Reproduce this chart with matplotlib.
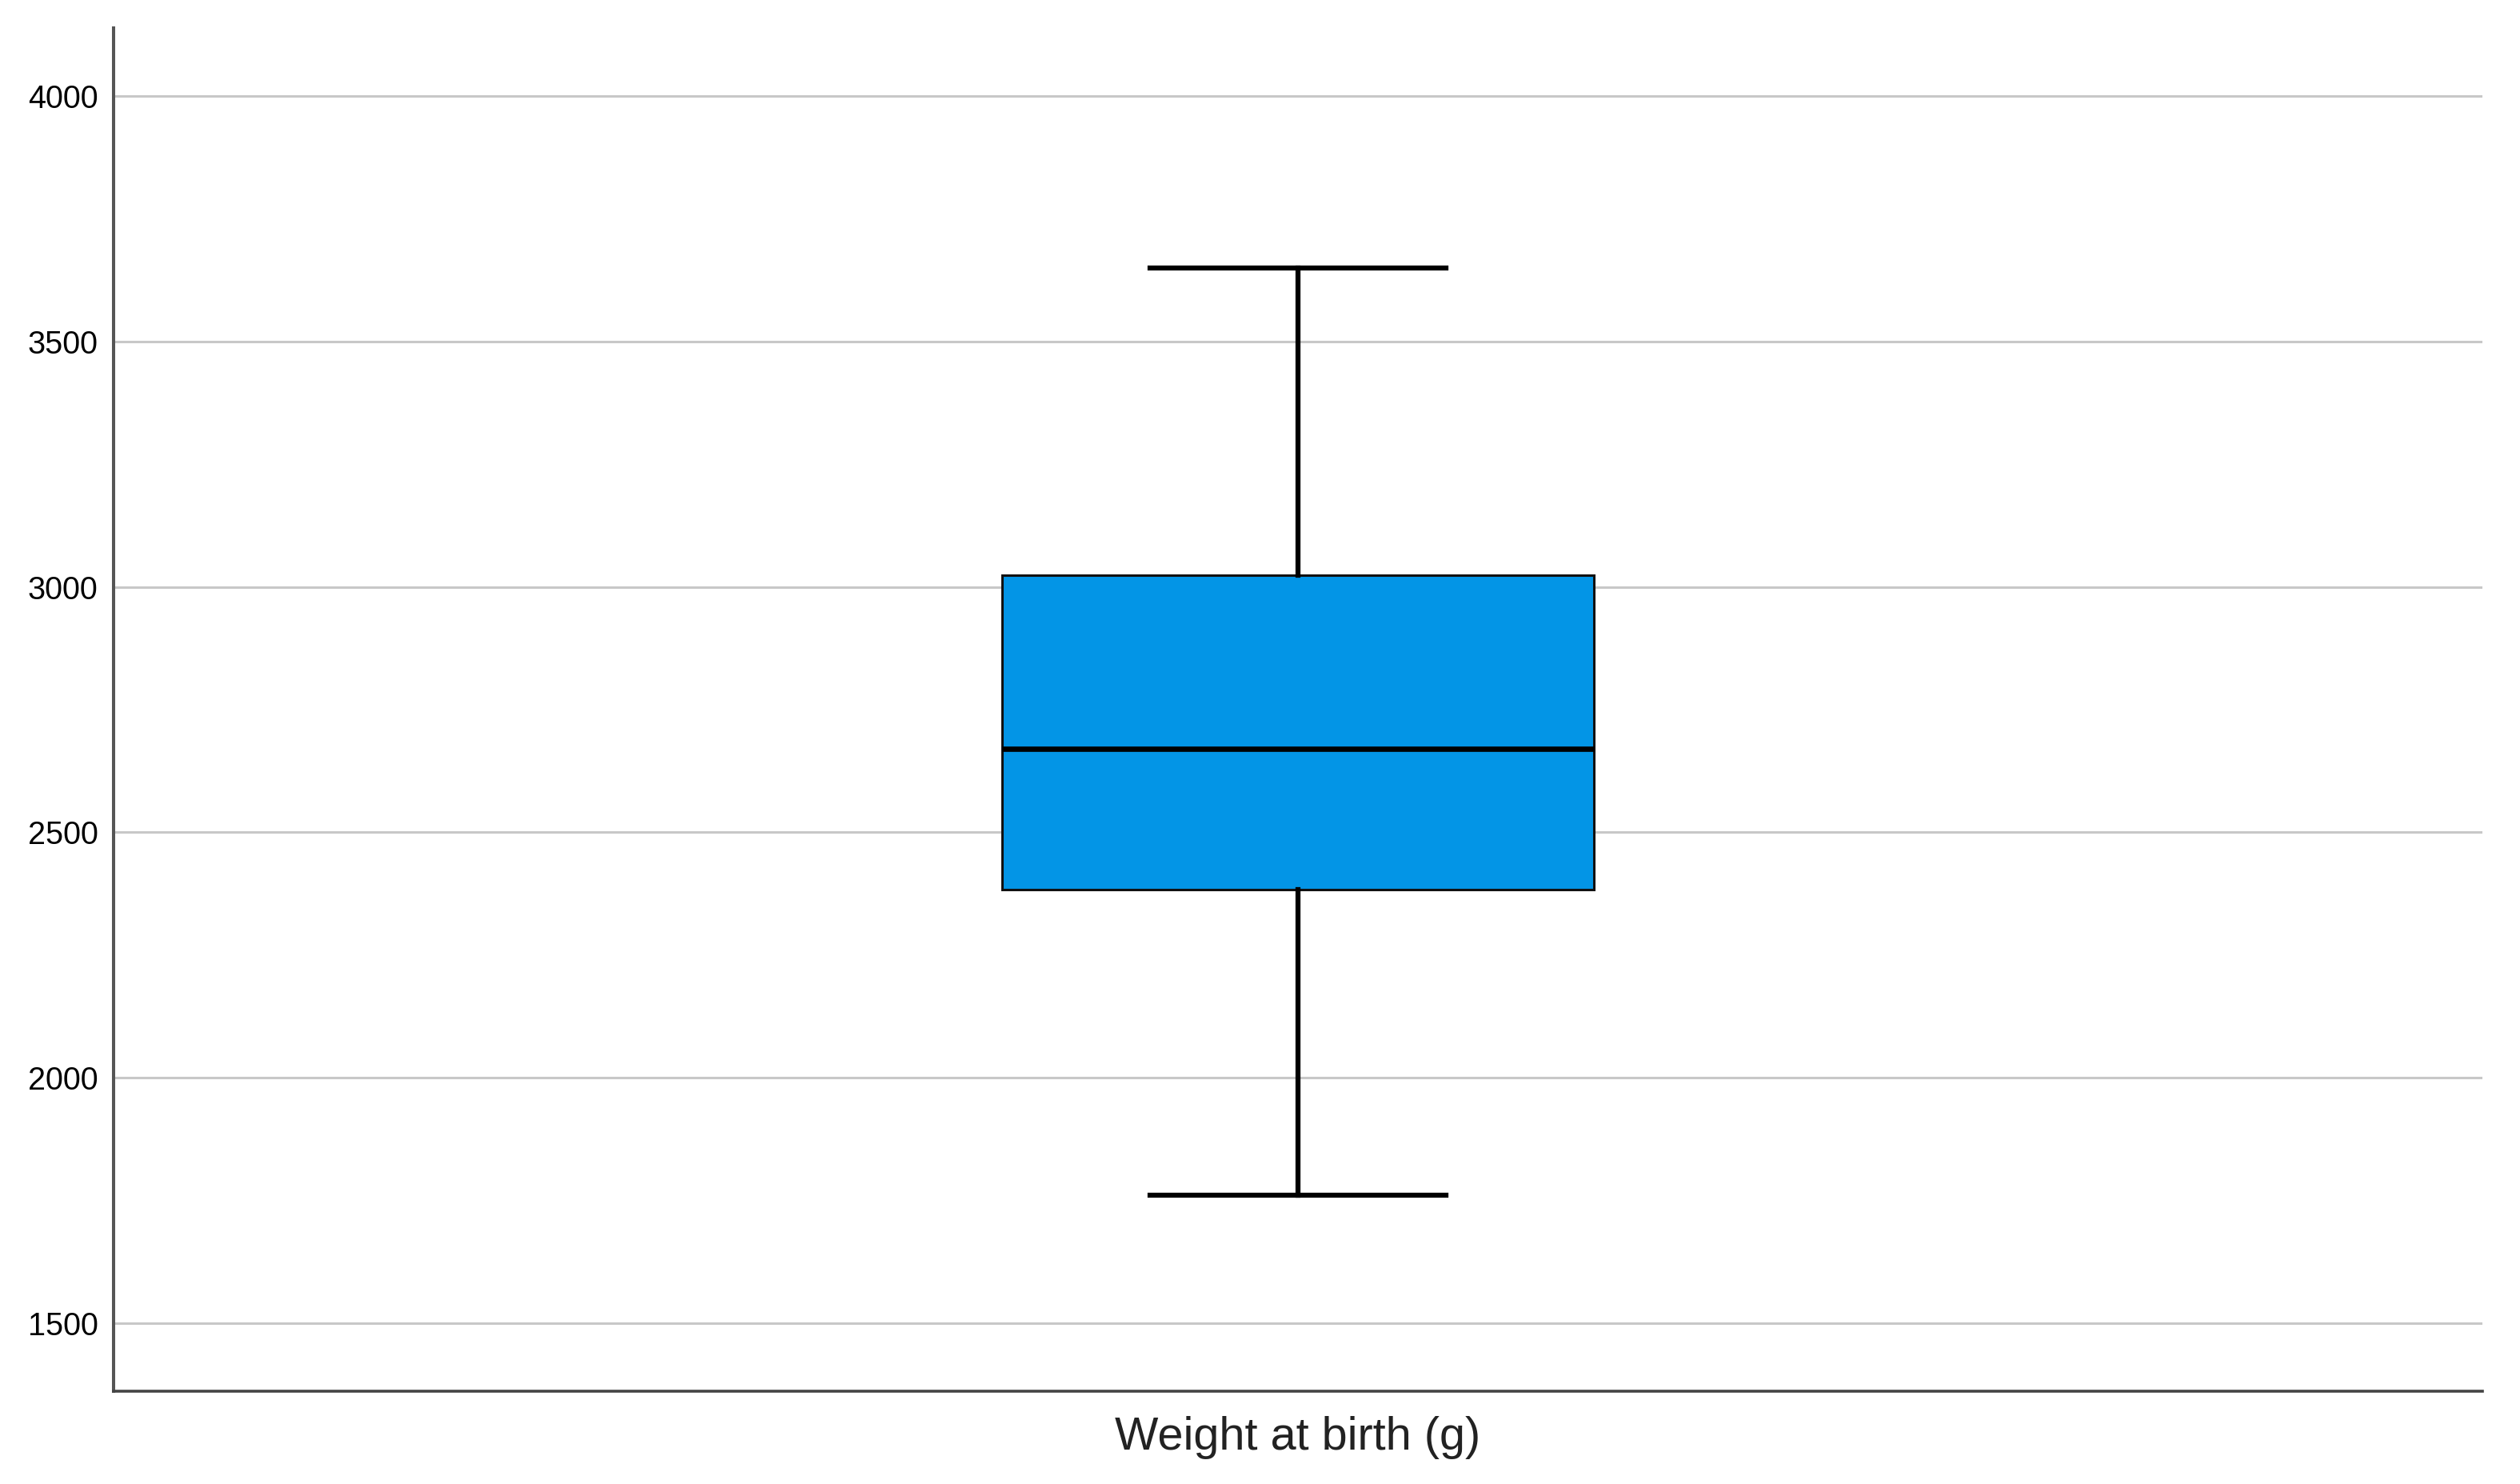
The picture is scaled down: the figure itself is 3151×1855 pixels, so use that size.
import matplotlib
matplotlib.use("Agg")
import matplotlib.pyplot as plt

# box plot summary (g)
label = "Weight at birth (g)"
whislo = 1761
q1 = 2383
median = 2670
q3 = 3024
whishi = 3650
yticks = [1500, 2000, 2500, 3000, 3500, 4000]

plt.rcParams['font.family'] = ['Liberation Sans', 'DejaVu Sans']

fig = plt.figure(figsize=(31.51, 18.55), dpi=100)
ax = fig.add_axes([0.0451, 0.0625, 0.9400, 0.9186])

stats = [{'med': median, 'q1': q1, 'q3': q3, 'whislo': whislo,
          'whishi': whishi, 'fliers': [], 'label': label}]
ax.bxp(stats, positions=[1], widths=0.25, capwidths=0.125, patch_artist=True,
       showfliers=False,
       boxprops=dict(facecolor='#0395e6', edgecolor='#111111', linewidth=2.2),
       medianprops=dict(color='black', linewidth=4.8),
       whiskerprops=dict(color='black', linewidth=4.5),
       capprops=dict(color='black', linewidth=4.5),
       zorder=3)

ax.set_xlim(0.5, 1.5)
ax.set_ylim(1361, 4139)
ax.set_yticks(yticks)
ax.set_yticklabels([str(v) for v in yticks], fontsize=28.5)
ax.tick_params(axis='y', length=0, pad=14)
ax.tick_params(axis='x', length=0, pad=22, labelsize=41.5, labelcolor='#222222')

ax.yaxis.grid(True, color='#c8c8c8', linewidth=2.2)
ax.set_axisbelow(True)

for side in ['top', 'right']:
    ax.spines[side].set_visible(False)
ax.spines['left'].set_color('#555555')
ax.spines['left'].set_linewidth(2.9)
ax.spines['bottom'].set_color('#444444')
ax.spines['bottom'].set_linewidth(2.6)

fig.savefig("out.png", dpi=100, facecolor='white')
